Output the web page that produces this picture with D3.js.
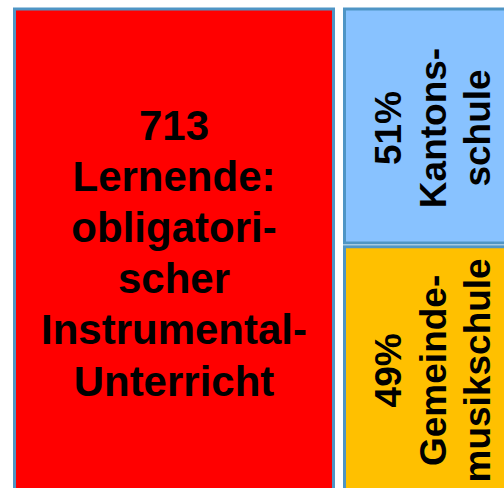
<!DOCTYPE html>
<html>
<head>
<meta charset="utf-8">
<script src="https://cdn.jsdelivr.net/npm/d3@7"></script>
<style>
  html, body { margin: 0; padding: 0; background: #fff; }
  svg { display: block; }
  text { font-family: "Liberation Sans", Arial, sans-serif; font-weight: bold; fill: #000; }
</style>
</head>
<body>
<svg id="chart" width="504" height="488"></svg>
<script>
// data
const total = 713;
const mainLabel = ["Lernende:", "obligatori-", "scher", "Instrumental-", "Unterricht"];
const schools = ["Kantonsschule", "Gemeindemusikschule"];
const shares = [51, 49];
const schoolLabels = [["Kantons-", "schule"], ["Gemeinde-", "musikschule"]];
const colors = ["#88c2ff", "#ffc000"];

const svg = d3.select("svg#chart"),
      strokeCol = "#4f95c5",
      strokeW = 3;

// layout: left block, right column split in two rows
const cols = {left: [14.5, 333.5], right: [344.5, 530]};
const rowEdges = {Kantonsschule: [9, 243], Gemeindemusikschule: [246.75, 490]};

const rowY = d3.scaleOrdinal()
  .domain(schools)
  .range(schools.map(s => rowEdges[s]));

// left block
svg.append("rect")
  .attr("x", cols.left[0])
  .attr("y", 9)
  .attr("width", cols.left[1] - cols.left[0])
  .attr("height", 495)
  .attr("fill", "#ff0000")
  .attr("stroke", strokeCol)
  .attr("stroke-width", strokeW);

const cx = (cols.left[0] + cols.left[1]) / 2;
const mainLines = [String(total)].concat(mainLabel);
svg.append("text")
  .attr("text-anchor", "middle")
  .style("font-size", "42px")
  .selectAll("tspan")
  .data(mainLines)
  .enter()
    .append("tspan")
    .attr("x", cx)
    .attr("y", (d, i) => 139.5 + i * 51.2)
    .text(d => d);

// right column
const cells = svg.selectAll(".school")
  .data(schools)
  .enter()
    .append("g")
    .attr("class", "school");

cells.append("rect")
  .attr("x", cols.right[0])
  .attr("y", d => rowY(d)[0])
  .attr("width", cols.right[1] - cols.right[0])
  .attr("height", d => rowY(d)[1] - rowY(d)[0])
  .attr("fill", (d, i) => colors[i])
  .attr("stroke", strokeCol)
  .attr("stroke-width", strokeW);

cells.append("text")
  .attr("text-anchor", "middle")
  .style("font-size", "37px")
  .attr("transform", d => `translate(0, ${(rowY(d)[0] + rowY(d)[1]) / 2 + 2}) rotate(-90)`)
  .selectAll("tspan")
  .data((d, i) => [shares[i] + "%"].concat(schoolLabels[i]))
  .enter()
    .append("tspan")
    .attr("x", 0)
    .attr("y", (d, i) => cols.right[0] + 56.5 + i * 44.5)
    .text(d => d);
</script>
</body>
</html>
